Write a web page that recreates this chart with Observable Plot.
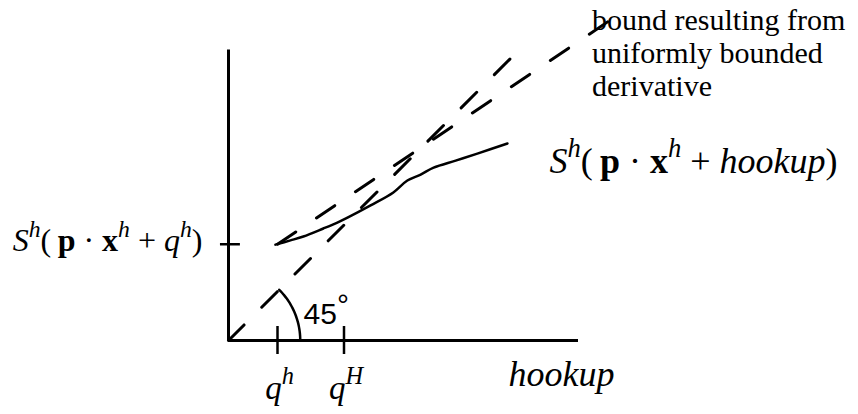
<!DOCTYPE html>
<html>
<head>
<meta charset="utf-8">
<script src="https://cdn.jsdelivr.net/npm/d3@7"></script>
<script src="https://cdn.jsdelivr.net/npm/@observablehq/plot@0.6"></script>
<style>
  html, body { margin: 0; padding: 0; background: #fff; }
  svg text { white-space: pre; }
</style>
</head>
<body>
<div id="chart"></div>
<script>
// Hookup axis: the two marked hookup levels q^h and q^H
const hookupTicks = [1.4, 3.3];
const hookupTickLabels = [[["q", "i"], ["h", "i^"]], [["q", "i"], ["H", "i^"]]];
// Surplus axis: level of S^h(p·x^h + q^h)
const surplusTick = 2.75;
const surplusTickLabel = [["S", "i"], ["h", "i^"], ["(\u2009", "r"], ["p", "b"], [" · ", "r"], ["x", "b"], ["h", "i^"], [" + ", "r"], ["q", "i"], ["h", "i^"], [")", "r"]];

// Surplus curve S^h(p·x^h + hookup)
const curveHookup  = [1.34, 1.77, 2.14, 2.71, 3.11, 3.40, 4.06, 4.71, 5.11, 5.49, 5.86, 6.49, 7.11, 7.97];
const curveSurplus = [2.74, 2.86, 2.97, 3.20, 3.37, 3.51, 3.86, 4.23, 4.57, 4.74, 4.94, 5.14, 5.34, 5.63];
const curveLabel = [["S", "i"], ["h", "i^"], ["(\u2009", "r"], ["p", "b"], [" · ", "r"], ["x", "b"], ["h", "i^"], [" + ", "r"], ["hookup", "i"], [")", "r"]];

// 45° line and the bound line from the uniformly bounded derivative
const diagonalEnd = 8.1;
const boundEnd = [10.9, 9.15];
const boundLabel = "bound resulting from\nuniformly bounded\nderivative";
const angleLabel = [["45", "r"], ["°", "deg"]];
const angleRadius = 2.05;
const xAxisLabel = "hookup";
const axisTop = 8.3, axisRight = 10;

const curve = curveHookup.map((x, i) => ({x, y: curveSurplus[i]}));
const arc = d3.range(0, 46, 3).map(a => ({
  x: angleRadius * Math.cos(a * Math.PI / 180),
  y: angleRadius * Math.sin(a * Math.PI / 180)
}));

// plain text of a formula, used as the text channel before typesetting
const plain = parts => parts.map(p => p[0]).join("");

const serif = "Liberation Serif, Times New Roman, serif";
const sans = "Liberation Sans, Arial, sans-serif";
const dash = "22,25";

const chart = Plot.plot({
  width: 858,
  height: 414,
  marginLeft: 228,
  marginRight: 280,
  marginTop: 0.5,
  marginBottom: 74,
  x: {domain: [0, axisRight], axis: null},
  y: {domain: [0, 9.7], axis: null},
  style: {background: "#fff", overflow: "visible", color: "#000"},
  marks: [
    // axes
    Plot.ruleX([0], {y1: 0, y2: axisTop, stroke: "#000", strokeWidth: 3}),
    Plot.ruleY([0], {x1: 0, x2: axisRight, stroke: "#000", strokeWidth: 3}),
    // tick marks
    Plot.ruleX(hookupTicks, {x: d => d, y1: -0.4, y2: 0.4, stroke: "#000", strokeWidth: 2.5}),
    Plot.ruleY([surplusTick], {y: d => d, x1: -0.23, x2: 0.34, stroke: "#000", strokeWidth: 2.5}),
    // dashed 45° line and dashed bound line
    Plot.line([[0, 0], [diagonalEnd, diagonalEnd]], {stroke: "#000", strokeWidth: 3, strokeDasharray: dash}),
    Plot.line([[hookupTicks[0], surplusTick], boundEnd], {stroke: "#000", strokeWidth: 3, strokeDasharray: dash}),
    // surplus curve
    Plot.line(curve, {x: "x", y: "y", curve: "catmull-rom", stroke: "#000", strokeWidth: 2.5}),
    // angle arc
    Plot.line(arc, {x: "x", y: "y", curve: "catmull-rom", stroke: "#000", strokeWidth: 2.5}),
    // labels
    Plot.text(hookupTicks, {x: d => d, y: 0, text: (d, i) => plain(hookupTickLabels[i]),
      dx: 2, dy: 58, lineAnchor: "bottom", textAnchor: "middle", fontFamily: serif, fontSize: 33}),
    Plot.text([surplusTick], {x: 0, y: d => d, text: () => plain(surplusTickLabel), dx: -26, dy: 7, lineAnchor: "bottom",
      textAnchor: "end", fontFamily: serif, fontSize: 32}),
    Plot.text([curve[curve.length - 1]], {x: "x", y: "y", text: () => plain(curveLabel), dx: 42, dy: 30, lineAnchor: "bottom",
      textAnchor: "start", fontFamily: serif, fontSize: 36}),
    Plot.text([boundEnd], {x: d => d[0], y: d => d[1], text: () => boundLabel, dx: -18, dy: 76, lineAnchor: "bottom",
      textAnchor: "start", lineHeight: 1.1, fontFamily: serif, fontSize: 30}),
    Plot.text([0], {x: 0, y: 0, text: () => plain(angleLabel), dx: 75, dy: -17, lineAnchor: "bottom", textAnchor: "start",
      fontFamily: sans, fontSize: 30}),
    Plot.text([axisRight], {x: d => d, y: 0, text: () => xAxisLabel, dx: -70, dy: 45, lineAnchor: "bottom",
      textAnchor: "start", fontFamily: serif, fontStyle: "italic", fontSize: 36})
  ]
});

// Typeset formula labels: italic letters, bold vectors, raised superscripts
function typeset(textEl, parts, size) {
  textEl.textContent = "";
  let shift = 0;
  for (const [s, kind] of parts) {
    const t = document.createElementNS("http://www.w3.org/2000/svg", "tspan");
    const sup = kind.includes("^");
    const target = sup ? -0.45 * size : kind === "deg" ? -0.28 * size : 0;
    if (target !== shift) { t.setAttribute("dy", target - shift); shift = target; }
    t.setAttribute("font-size", sup ? 0.74 * size : size);
    t.setAttribute("font-style", kind.includes("i") ? "italic" : "normal");
    t.setAttribute("font-weight", kind.includes("b") ? "bold" : "normal");
    t.textContent = s;
    textEl.appendChild(t);
  }
}
const formulas = [
  ...hookupTickLabels.map(p => [p, 33]),
  [surplusTickLabel, 32],
  [curveLabel, 36],
  [angleLabel, 30]
];
const texts = Array.from(chart.querySelectorAll("text"));
for (const [parts, size] of formulas) {
  const el = texts.find(t => t.textContent === plain(parts));
  if (el) typeset(el, parts, size);
}

document.getElementById("chart").appendChild(chart);
</script>
</body>
</html>
